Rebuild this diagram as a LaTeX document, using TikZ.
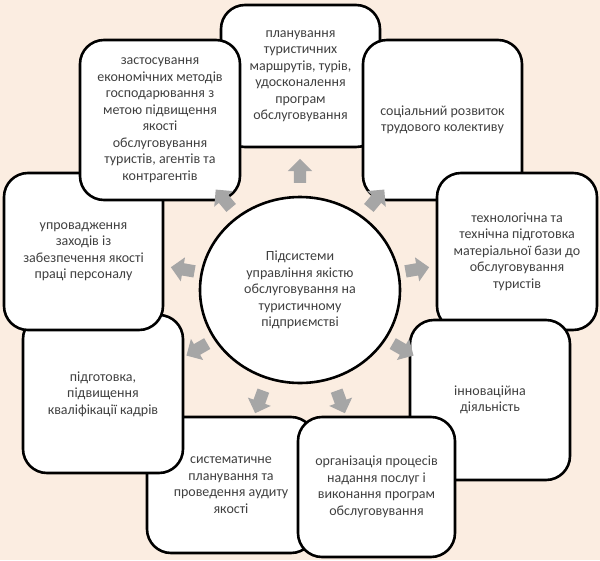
\documentclass[tikz,border=0pt]{standalone}
\usepackage{fontspec}
\setmainfont{Carlito}
\usepackage{xcolor}
\usetikzlibrary{shapes.geometric, shapes.arrows, calc}
\definecolor{pagebg}{RGB}{251,237,225}
\definecolor{arrowgray}{RGB}{166,166,166}
\definecolor{textgray}{RGB}{64,64,64}

\begin{document}
\begin{tikzpicture}[x=1pt, y=1pt,
        every node/.style={font=\fontsize{14}{16.5}\selectfont, text=textgray, align=center},
        subsys/.style={draw=black, line width=2.6pt, rounded corners=24pt, fill=white, inner sep=2pt},
        hub/.style={draw=black, line width=2.6pt, ellipse, fill=white, inner sep=0pt},
        blockarr/.style={single arrow, fill=arrowgray, minimum width=24pt, minimum height=24pt, single arrow head extend=6pt, single arrow head indent=0pt, inner xsep=0pt, inner ysep=6pt}]
        % Background
        \fill[pagebg] (0,0) rectangle (600,-560);
        \useasboundingbox (0,0) rectangle (600,-560);

        % Subsystem boxes (clockwise from the top)
        \node[subsys, minimum width=159pt, minimum height=142pt] (plan) at (300.5,-76) {планування\\туристичних\\маршрутів, турів,\\удосконалення\\програм\\обслуговування};
        \node[subsys, minimum width=159pt, minimum height=160pt] (social) at (442.5,-120) {соціальний розвиток\\трудового колективу};
        \node[subsys, minimum width=160pt, minimum height=157pt] (tech) at (517,-251.5) {технологічна та\\технічна підготовка\\матеріальної бази до\\обслуговування\\туристів};
        \node[subsys, minimum width=160pt, minimum height=160pt] (innov) at (490,-400) {інноваційна\\діяльність};
        \node[subsys, minimum width=168pt, minimum height=136pt] (audit) at (231,-485) {систематичне\\планування та\\проведення аудиту\\якості};
        \node[subsys, minimum width=157pt, minimum height=140pt] (process) at (376.5,-487) {організація процесів\\надання послуг і\\виконання програм\\обслуговування};
        \node[subsys, minimum width=160pt, minimum height=158pt] (staff) at (103,-394) {підготовка,\\підвищення\\кваліфікації кадрів};
        \node[subsys, minimum width=159pt, minimum height=157pt] (labour) at (83.5,-251.5) {упровадження\\заходів із\\забезпечення якості\\праці персоналу};
        \node[subsys, minimum width=160pt, minimum height=160pt] (econ) at (160,-120) {застосування\\економічних методів\\господарювання з\\метою підвищення\\якості\\обслуговування\\туристів, агентів та\\контрагентів};

        % Central circle
        \node[hub, minimum width=200pt, minimum height=186pt] (hub) at (300,-290) {Підсистеми\\управління якістю\\обслуговування на\\туристичному\\підприємстві};

        % Block arrows
        \node[blockarr, rotate=90] (arPlan) at ($(hub.center)+(90:116)$) {};
        \node[blockarr, rotate=50] (arSocial) at ($(hub.center)+(50:116)$) {};
        \node[blockarr, rotate=10] (arTech) at ($(hub.center)+(10:116)$) {};
        \node[blockarr, rotate=-30] (arInnov) at ($(hub.center)+(-30:116)$) {};
        \node[blockarr, rotate=-70] (arProcess) at ($(hub.center)+(-70:116)$) {};
        \node[blockarr, rotate=-110] (arAudit) at ($(hub.center)+(-110:116)$) {};
        \node[blockarr, rotate=-150] (arStaff) at ($(hub.center)+(-150:116)$) {};
        \node[blockarr, rotate=170] (arLabour) at ($(hub.center)+(170:116)$) {};
        \node[blockarr, rotate=130] (arEcon) at ($(hub.center)+(130:116)$) {};
\end{tikzpicture}
\end{document}
